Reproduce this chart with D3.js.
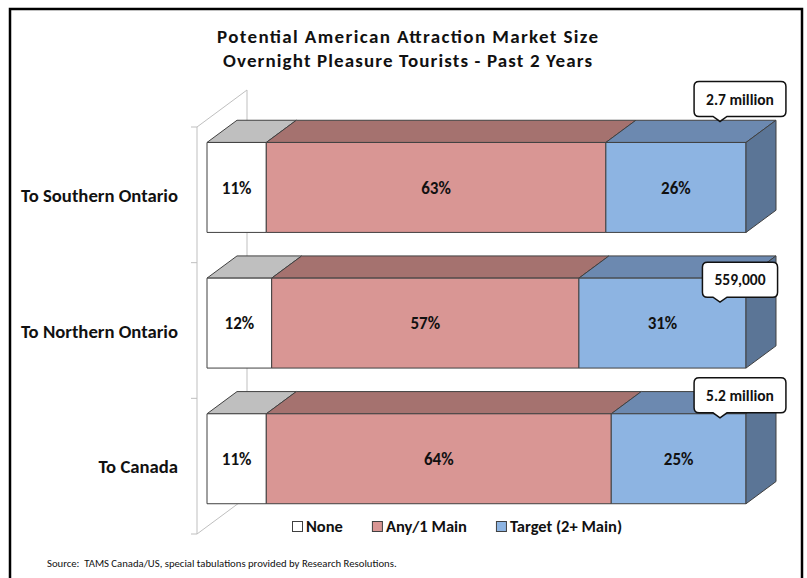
<!doctype html>
<html lang="en">
<head>
<meta charset="utf-8">
<title>Potential American Attraction Market Size</title>
<style>
  body { margin: 0; background: #fff; }
  svg { display: block; }
  text { font-family: Carlito, Lato, "Open Sans", sans-serif; fill: #111; }
</style>
</head>
<body>
<script src="https://cdn.jsdelivr.net/npm/d3@7/dist/d3.min.js"></script>
<script>

var categories  = ["To Southern Ontario", "To Northern Ontario", "To Canada"];
var seriesNames = ["None", "Any/1 Main", "Target (2+ Main)"];
var noneValues    = [11, 12, 11];
var anyMainValues = [63, 57, 64];
var targetValues  = [26, 31, 25];
var marketSize    = ["2.7 million", "559,000", "5.2 million"];
var titleLines = ["Potential American Attraction Market Size", "Overnight Pleasure Tourists - Past 2 Years"];
var sourceNote = "Source:  TAMS Canada/US, special tabulations provided by Research Resolutions.";

var width = 807, height = 578;

// face colours per series: front, top, side
var colors = {
  "None":             { front: "#ffffff", top: "#bfbfbf", side: "#a6a6a6" },
  "Any/1 Main":       { front: "#d99694", top: "#a5726f", side: "#8f5f5d" },
  "Target (2+ Main)": { front: "#8db4e2", top: "#6c89b0", side: "#5b7596" }
};

// fake 3d: depth d moves right by d and up by d*k
var k = 0.74, wallDepth = 50, barFront = 10, barBack = 40;
function proj(px, py, d) { return [px + d, py - d * k]; }

var rows = categories.map(function(c, i) {
  return { cat: c, "None": noneValues[i], "Any/1 Main": anyMainValues[i], "Target (2+ Main)": targetValues[i] };
});
var stacked = d3.stack().keys(seriesNames)(rows);

var x = d3.scaleLinear().domain([0, 100]).range([197, 736]);
var ySlot = d3.scaleBand().domain(categories).range([127, 534]);
var yBar = d3.scaleBand().domain(categories).range([127, 534])
    .paddingInner(0.337).paddingOuter(0.1685);

var svg = d3.select("body").append("svg")
    .attr("width", width).attr("height", height);

svg.append("rect").attr("width", width).attr("height", height).attr("fill", "#fff");

// outer frame (bottom edge runs off the picture)
svg.append("rect")
    .attr("x", 10).attr("y", 9).attr("width", 792).attr("height", 620)
    .attr("fill", "none").attr("stroke", "#000").attr("stroke-width", 2.5);

function fitText(sel, w) {
  var cur = sel.node().getComputedTextLength();
  var fs = parseFloat(sel.attr("font-size"));
  return fs * w / cur;
}

// title: two lines, stretched to the widths they have in the original
var titleWidths = [381, 369];
svg.selectAll("text.title").data(titleLines).enter().append("text")
    .attr("class", "title")
    .attr("x", 407.5).attr("y", function(d, i) { return 43 + i * 23.5; })
    .attr("text-anchor", "middle").attr("font-weight", "bold").attr("font-size", 19)
    .attr("textLength", function(d, i) { return titleWidths[i]; })
    .attr("lengthAdjust", "spacing")
    .text(function(d) { return d; });

// left wall
var wall = svg.append("g").attr("stroke", "#bfbfbf").attr("stroke-width", 1).attr("fill", "none");
var y0 = ySlot.range()[0], y1 = ySlot.range()[1], xz = x(0);
var wallLines = [
  [[xz, y0], [xz, y1]],
  [proj(xz, y0, wallDepth), proj(xz, y1, wallDepth)],
  [[xz, y0], proj(xz, y0, wallDepth)],
  [[xz, y1], proj(xz, y1, wallDepth)]
];
wall.selectAll("path.wall").data(wallLines).enter().append("path")
    .attr("d", function(d) { return d3.line()(d); });

var tickYs = categories.map(function(c) { return ySlot(c); }).concat([y1]);
wall.selectAll("line.tick").data(tickYs).enter().append("line")
    .attr("x1", xz - 6).attr("x2", xz).attr("y1", function(d) { return d; }).attr("y2", function(d) { return d; });

// category axis
var axis = svg.append("g").attr("transform", "translate(" + xz + ",0)")
    .call(d3.axisLeft(ySlot).tickSize(0).tickPadding(19));
axis.select(".domain").remove();
axis.attr("font-family", null).attr("font-size", 17);
axis.selectAll("text").attr("font-weight", "bold").attr("fill", "#111");
var longest = axis.selectAll("text").filter(function(d) { return d === categories[0]; });
var catSize = fitText(longest.attr("font-size", 17), 157);
axis.selectAll("text").attr("font-size", catSize).attr("dy", "0.38em");

// bars
var bars = svg.append("g");
categories.forEach(function(cat, ci) {
  var g = bars.append("g");
  var yt = yBar(cat), yb = yt + yBar.bandwidth();
  stacked.forEach(function(layer, li) {
    var d = layer[ci];
    var xa = x(d[0]), xb = x(d[1]);
    var c = colors[layer.key];
    var top = [proj(xa, yt, barFront), proj(xb, yt, barFront), proj(xb, yt, barBack), proj(xa, yt, barBack)];
    var front = [proj(xa, yt, barFront), proj(xb, yt, barFront), proj(xb, yb, barFront), proj(xa, yb, barFront)];
    g.append("path").attr("d", d3.line()(top) + "Z").attr("fill", c.top)
        .attr("stroke", "#404040").attr("stroke-width", 1).attr("stroke-linejoin", "round");
    g.append("path").attr("d", d3.line()(front) + "Z").attr("fill", c.front)
        .attr("stroke", "#404040").attr("stroke-width", 1);
    if (li === stacked.length - 1) {
      var side = [proj(xb, yt, barFront), proj(xb, yt, barBack), proj(xb, yb, barBack), proj(xb, yb, barFront)];
      g.append("path").attr("d", d3.line()(side) + "Z").attr("fill", c.side)
          .attr("stroke", "#404040").attr("stroke-width", 1).attr("stroke-linejoin", "round");
    }
    var mid = proj((xa + xb) / 2, (yt + yb) / 2, barFront);
    g.append("text").attr("x", mid[0]).attr("y", mid[1]).attr("dy", "0.36em")
        .attr("text-anchor", "middle").attr("font-weight", "bold").attr("font-size", 17)
        .text((d[1] - d[0]) + "%");
  });
});

// market size callouts
var calloutDy = [-21, 24, 4];
categories.forEach(function(cat, ci) {
  var front = proj(x(100), yBar(cat), barFront);
  var tx = front[0] - 26, ty = front[1] + calloutDy[ci];
  var cx = front[0] - 6;
  var B = ty - 5, T = B - 35;
  var g = svg.append("g");
  var txt = g.append("text").attr("x", cx).attr("y", (T + B) / 2).attr("dy", "0.36em")
      .attr("text-anchor", "middle").attr("font-weight", "bold").attr("font-size", 15.5)
      .text(marketSize[ci]);
  var w = txt.node().getComputedTextLength() + 24;
  var L = cx - w / 2, R = cx + w / 2, r = 5;
  var p = "M" + (L + r) + "," + T + "H" + (R - r) + "Q" + R + "," + T + " " + R + "," + (T + r) +
          "V" + (B - r) + "Q" + R + "," + B + " " + (R - r) + "," + B +
          "H" + (tx + 7) + "L" + tx + "," + ty + "L" + (tx - 7) + "," + B +
          "H" + (L + r) + "Q" + L + "," + B + " " + L + "," + (B - r) +
          "V" + (T + r) + "Q" + L + "," + T + " " + (L + r) + "," + T + "Z";
  g.insert("path", "text").attr("d", p).attr("fill", "#fff")
      .attr("stroke", "#111").attr("stroke-width", 1.5);
});

// legend
var legend = svg.append("g");
var lx = 292;
seriesNames.forEach(function(name) {
  legend.append("rect").attr("x", lx + 0.5).attr("y", 521.5).attr("width", 10).attr("height", 10)
      .attr("fill", colors[name].front).attr("stroke", "#404040").attr("stroke-width", 1);
  var t = legend.append("text").attr("x", lx + 14).attr("y", 526.5).attr("dy", "0.36em")
      .attr("font-weight", "bold").attr("font-size", 16.5).text(name);
  lx += 14 + t.node().getComputedTextLength() + 29;
});

// source note
var src = svg.append("text").attr("x", 47).attr("y", 567)
    .attr("font-size", 11).attr("fill", "#222").style("white-space", "pre").text(sourceNote);
src.attr("font-size", fitText(src, 350));

</script>
</body>
</html>
